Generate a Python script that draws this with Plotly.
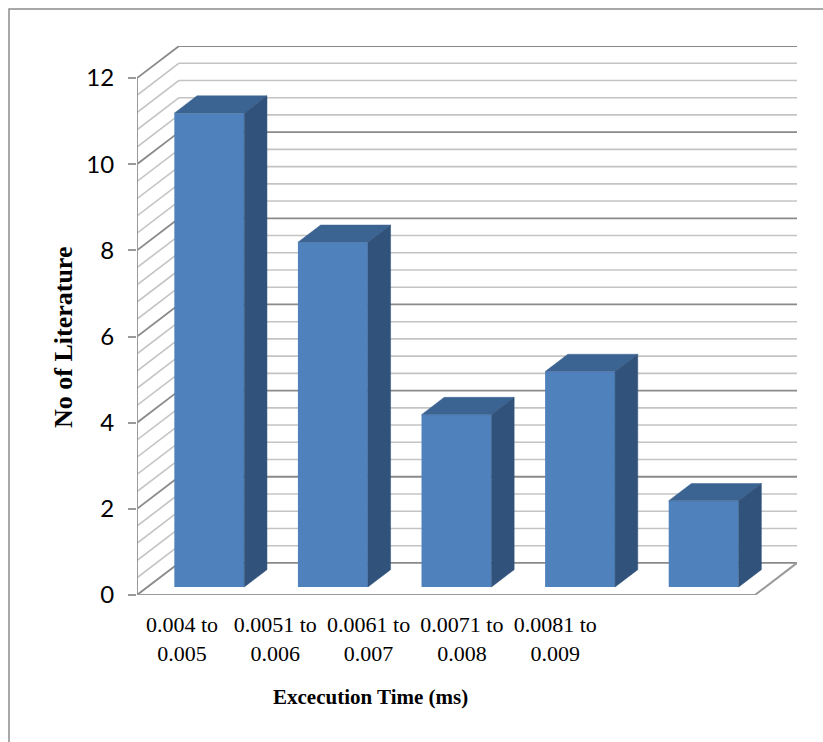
import numpy as np
import plotly.graph_objects as go

# ---------------- data ----------------
categories = ["0.004 to 0.005", "0.0051 to 0.006", "0.0061 to 0.007",
              "0.0071 to 0.008", "0.0081 to 0.009"]
tick_text = ["0.004 to<br>0.005", "0.0051 to<br>0.006", "0.0061 to<br>0.007",
             "0.0071 to<br>0.008", "0.0081 to<br>0.009"]
counts = [11, 8, 4, 5, 2]
y_ticks = [0, 2, 4, 6, 8, 10, 12]
y_max = 12
minor_step = 0.4
x_title = "Excecution Time (ms)"
y_title = "No of Literature"

# ---------------- 3D look parameters (in axis units) ----------------
DX, DY = 0.34, 0.745      # depth of the chart box
F0, FD = 0.25, 0.54       # bar front offset and bar depth (fraction of box depth)
BW = 0.566                # bar width (category units)
N = len(categories)

FRONT = "#4F81BD"
TOP = "#3C6492"
SIDE = "#31527A"
MINOR = "#c4c4c4"
MAJOR = "#8a8a8a"
AXIS = "#9a9a9a"

fig = go.Figure()
shapes = []

# wall gridlines (left wall diagonals + back wall horizontals) -> below the bars
levels = np.round(np.arange(0, y_max + 1e-9, minor_step), 4)
for v in levels:
    major = abs(v / 2 - round(v / 2)) < 1e-6
    ln = dict(color=MAJOR if major else MINOR, width=1.8 if major else 1.6)
    shapes.append(dict(type="line", xref="x", yref="y", x0=0, y0=v, x1=DX, y1=v + DY,
                       line=ln, layer="below"))
    shapes.append(dict(type="line", xref="x", yref="y", x0=DX, y0=v + DY, x1=N + DX,
                       y1=v + DY, line=ln, layer="below"))

# floor front + right edge, left axis line
for (a, b, c, d) in [(0, 0, 0, y_max), (0, 0, N, 0), (N, 0, N + DX, DY)]:
    shapes.append(dict(type="line", xref="x", yref="y", x0=a, y0=b, x1=c, y1=d,
                       line=dict(color=AXIS, width=2), layer="below"))

# bars: front faces
centers = [i + 0.5 + F0 * DX for i in range(N)]
base0 = F0 * DY
fig.add_trace(go.Bar(x=centers, y=counts, base=[base0] * N, width=BW,
                     marker=dict(color=FRONT, line=dict(width=0)),
                     hoverinfo="skip", showlegend=False))

# bars: top and side faces
ddx, ddy = FD * DX, FD * DY
for c, v in zip(centers, counts):
    xl, xr = c - BW / 2, c + BW / 2
    yt = base0 + v
    fig.add_trace(go.Scatter(x=[xl, xr, xr + ddx, xl + ddx, xl],
                             y=[yt, yt, yt + ddy, yt + ddy, yt],
                             mode="lines", fill="toself", fillcolor=TOP,
                             line=dict(color=TOP, width=0.5),
                             hoverinfo="skip", showlegend=False))
    fig.add_trace(go.Scatter(x=[xr, xr, xr + ddx, xr + ddx, xr],
                             y=[base0, yt, yt + ddy, base0 + ddy, base0],
                             mode="lines", fill="toself", fillcolor=SIDE,
                             line=dict(color=SIDE, width=0.5),
                             hoverinfo="skip", showlegend=False))

# label centres (Excel places wrapped labels compactly)
label_pos = [0.364 + 0.755 * i for i in range(N)]

L, R, T, B = 137, 26, 46, 147
W, H = 823, 742
pw, ph = W - L - R, H - T - B

# outer chart border (extends past right/bottom edges)
shapes.append(dict(type="rect", xref="paper", yref="paper",
                   x0=(9 - L) / pw, x1=(W + 20 - L) / pw,
                   y0=1 - (H + 20 - T) / ph, y1=1 - (9 - T) / ph,
                   line=dict(color="#8c8c8c", width=1.5), fillcolor="rgba(0,0,0,0)",
                   layer="below"))

fig.update_layout(
    width=W, height=H,
    margin=dict(l=L, r=R, t=T, b=B, pad=0, autoexpand=False),
    paper_bgcolor="white", plot_bgcolor="white",
    showlegend=False,
    xaxis=dict(range=[0, N + DX], type="linear", showgrid=False, zeroline=False,
               showline=False, tickmode="array", tickvals=label_pos, ticktext=tick_text,
               ticks="", ticklabelstandoff=14, automargin=False,
               tickfont=dict(family="Liberation Serif", size=22, color="black"),
               fixedrange=True),
    yaxis=dict(range=[0, y_max + DY], showgrid=False, zeroline=False, showline=False,
               tickmode="array", tickvals=y_ticks, ticks="outside", ticklen=8,
               tickwidth=2, tickcolor=AXIS, ticklabelstandoff=9, automargin=False,
               tickfont=dict(family="Lato", size=24, color="black"),
               fixedrange=True),
    annotations=[
        dict(text="<b>" + x_title + "</b>", xref="paper", yref="paper",
             x=(370 - L) / pw, y=1 - (697 - T) / ph, xanchor="center", yanchor="middle",
             showarrow=False, font=dict(family="Liberation Serif", size=21, color="black")),
        dict(text="<b>" + y_title + "</b>", xref="paper", yref="paper",
             x=(63 - L) / pw, y=1 - (338 - T) / ph, xanchor="center", yanchor="middle",
             textangle=-90, showarrow=False,
             font=dict(family="Liberation Serif", size=26, color="black")),
    ],
    shapes=shapes,
)

fig.write_html("out.html", config={"displayModeBar": False},
               post_script="document.body.style.margin='0';document.body.style.overflow='hidden';")
